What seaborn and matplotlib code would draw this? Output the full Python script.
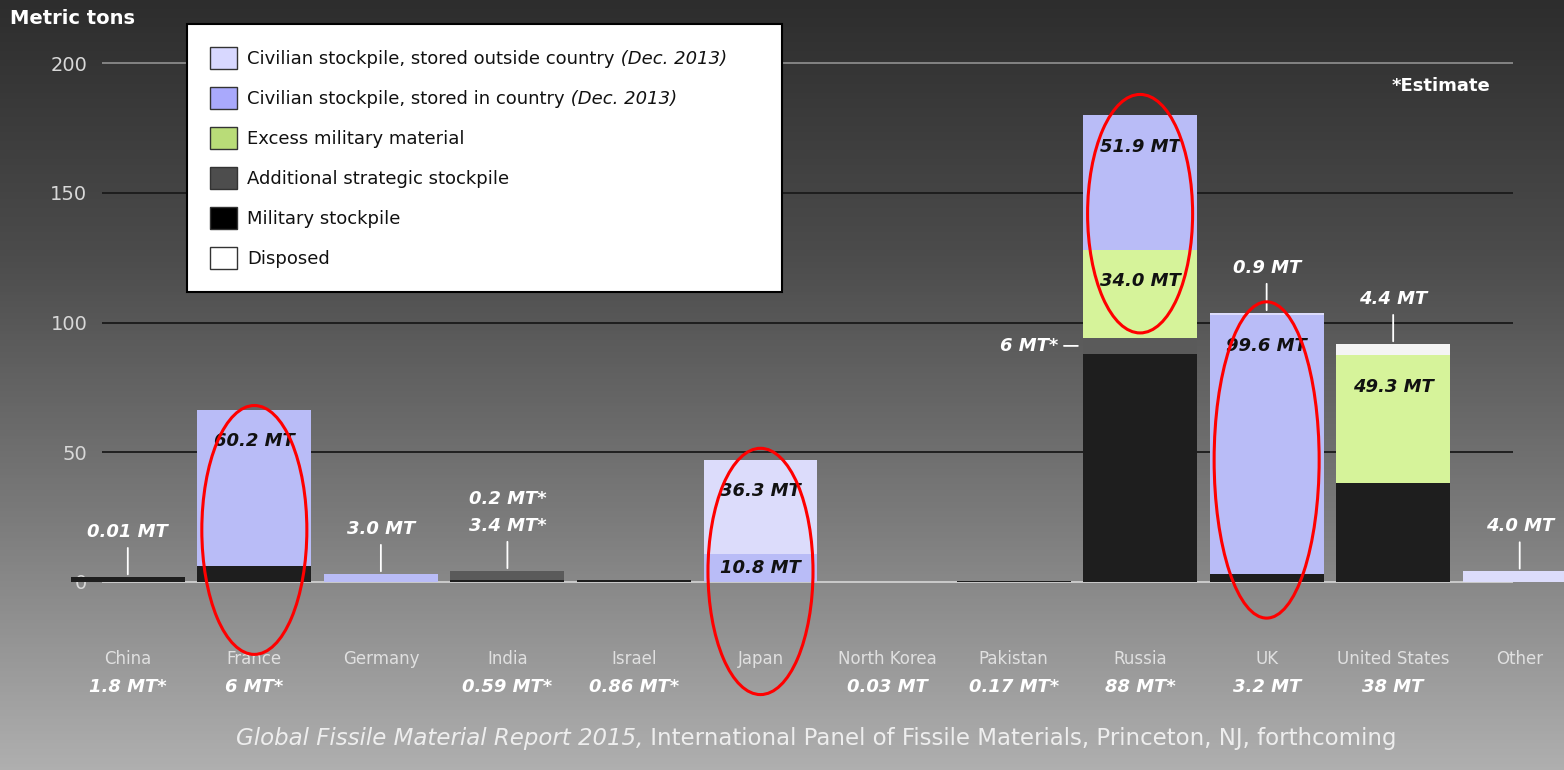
import numpy as np
import pandas as pd
import seaborn as sns
import matplotlib.pyplot as plt
from matplotlib.patches import Ellipse, Patch
from matplotlib.text import Annotation
from matplotlib.colors import LinearSegmentedColormap

# stockpiles per country, metric tons
countries = ["China", "France", "Germany", "India", "Israel", "Japan",
             "North Korea", "Pakistan", "Russia", "UK", "United States", "Other"]
military = [1.8, 6, 0, 0.59, 0.86, 0, 0.03, 0.17, 88, 3.2, 38, 0]
strategic = [0, 0, 0, 3.4, 0, 0, 0, 0, 6, 0, 0, 0]
excess = [0, 0, 0, 0, 0, 0, 0, 0, 34.0, 0, 49.3, 0]
civ_in = [0.01, 60.2, 3.0, 0.2, 0, 10.8, 0, 0, 51.9, 99.6, 0, 0]
civ_out = [0, 0, 0, 0, 0, 36.3, 0, 0, 0, 0.9, 0, 4.0]
disposed = [0, 0, 0, 0, 0, 0, 0, 0, 0, 0, 4.4, 0]

military_labels = ["1.8 MT*", "6 MT*", "", "0.59 MT*", "0.86 MT*", "",
                   "0.03 MT", "0.17 MT*", "88 MT*", "3.2 MT", "38 MT", ""]

layer_keys = ["military", "strategic", "excess", "civ_in", "civ_out", "disposed"]
legend_order = ["civ_out", "civ_in", "excess", "strategic", "military", "disposed"]
layer_names = {
    "civ_out": "Civilian stockpile, stored outside country",
    "civ_in": "Civilian stockpile, stored in country",
    "excess": "Excess military material",
    "strategic": "Additional strategic stockpile",
    "military": "Military stockpile",
    "disposed": "Disposed",
}
name_suffix = {"civ_out": "(Dec. 2013)", "civ_in": "(Dec. 2013)"}
bar_colors = {"military": "#1e1e1e", "strategic": "#5a5a5a", "excess": "#d6f39a",
              "civ_in": "#b9bcf7", "civ_out": "#dcdcfb", "disposed": "#f4f4f4"}
patch_colors = {"military": "#000000", "strategic": "#4d4d4d", "excess": "#b9dc78",
                "civ_in": "#a9a9fc", "civ_out": "#d8d8ff", "disposed": "#ffffff"}

# labels inside / above bars: (country, layer, text)
inside_labels = [("France", "civ_in", "60.2 MT"), ("Japan", "civ_out", "36.3 MT"),
                 ("Japan", "civ_in", "10.8 MT"), ("Russia", "civ_in", "51.9 MT"),
                 ("Russia", "excess", "34.0 MT"), ("UK", "civ_in", "99.6 MT"),
                 ("United States", "excess", "49.3 MT")]
above_labels = [("China", "0.01 MT"), ("Germany", "3.0 MT"), ("India", "0.2 MT*\n3.4 MT*"),
                ("UK", "0.9 MT"), ("United States", "4.4 MT"), ("Other", "4.0 MT")]

# red highlight rings: (country, y centre, height)
rings = [("France", 20, 96), ("Japan", 4, 95), ("Russia", 142, 92), ("UK", 47, 122)]

df = pd.DataFrame({"country": countries, "military": military, "strategic": strategic,
                   "excess": excess, "civ_in": civ_in, "civ_out": civ_out, "disposed": disposed})
tops = df[layer_keys].cumsum(axis=1)
bottoms = tops - df[layer_keys]

plt.rcParams["font.family"] = ["DejaVu Sans"]
fig = plt.figure(figsize=(15.64, 7.7), dpi=100)

# grey gradient backdrop
bg = fig.add_axes([0, 0, 1, 1], zorder=-10)
cmap = LinearSegmentedColormap.from_list("bg", ["#2d2d2d", "#4c4c4c", "#7a7a7a", "#afafaf"])
bg.imshow(np.linspace(0, 1, 256).reshape(-1, 1), aspect="auto", cmap=cmap,
          extent=[0, 1, 0, 1])
bg.axis("off")

ax = fig.add_axes([0, 0.1636, 1, 0.771])
ax.set_facecolor("none")

# stacked bars: draw cumulative tops from the top layer down
for key in reversed(layer_keys):
    sns.barplot(x=df["country"], y=tops[key], color=bar_colors[key], width=0.9,
                saturation=1, linewidth=0, ax=ax, zorder=2)

grid_colors = ["#d0d0d0", "#1a1a1a", "#1a1a1a", "#1a1a1a", "#8a8a8a"]
ax.hlines([0, 50, 100, 150, 200], -0.2, 10.95, colors=grid_colors, lw=1.3, zorder=1)

ax.set_xlim(-1.01, 11.35)
ax.set_ylim(-24, 205)
ax.set_yticks([0, 50, 100, 150, 200])
ax.set_yticklabels(["0", "50", "100", "150", "200"])
ax.tick_params(axis="y", length=0, pad=-63, labelcolor="#d8d8d8", labelsize=14)
ax.tick_params(axis="x", length=0, pad=4, labelcolor="#e0e0e0", labelsize=12)
ax.set_xlabel("")
ax.set_ylabel("")
for s in ax.spines.values():
    s.set_visible(False)

idx = {c: i for i, c in enumerate(countries)}

for i, lab in enumerate(military_labels):
    ax.annotate(lab, xy=(i, 0), xycoords=("data", "axes fraction"), xytext=(0, -31),
                textcoords="offset points", ha="center", va="center", color="white",
                fontsize=13, fontstyle="italic", fontweight="bold")

for c, key, txt in inside_labels:
    i = idx[c]
    top = tops.loc[i, key]
    h = top - bottoms.loc[i, key]
    y = top - min(h / 2, 12)
    ax.text(i, y, txt, ha="center", va="center", color="#111111", fontsize=13,
            fontstyle="italic", fontweight="bold", zorder=5)

for c, txt in above_labels:
    i = idx[c]
    ax.annotate(txt, xy=(i, tops.loc[i, "disposed"]), xytext=(0, 26),
                textcoords="offset points", ha="center", va="bottom", color="white",
                fontsize=13, fontstyle="italic", fontweight="bold", linespacing=1.6,
                arrowprops=dict(arrowstyle="-", color="white", lw=1.3, shrinkA=3, shrinkB=2),
                zorder=5)

# Russia's strategic stockpile, labelled at the side
ri = idx["Russia"]
ax.annotate("6 MT*", xy=(ri - 0.47, (tops.loc[ri, "strategic"] + bottoms.loc[ri, "strategic"]) / 2),
            xytext=(-16, 0), textcoords="offset points", ha="right", va="center",
            color="white", fontsize=13, fontstyle="italic", fontweight="bold",
            arrowprops=dict(arrowstyle="-", color="white", lw=1.3, shrinkA=2, shrinkB=2))

for c, yc, hgt in rings:
    ax.add_patch(Ellipse((idx[c], yc), 0.83, hgt, fill=False, edgecolor="red", lw=2.2,
                         zorder=6, clip_on=False))

handles = [Patch(facecolor=patch_colors[k], edgecolor="#333333", lw=1) for k in legend_order]
labels = [layer_names[k] for k in legend_order]
leg = fig.legend(handles, labels, loc="upper left",
                 bbox_to_anchor=(187 / 1564, 1 - 290 / 770, 595 / 1564, 266 / 770),
                 mode="expand", fontsize=13, frameon=True, fancybox=False,
                 edgecolor="black", framealpha=1, facecolor="white",
                 handlelength=1.5, handleheight=1.5, labelspacing=1.0,
                 borderpad=1.25, handletextpad=0.6, borderaxespad=0)
leg.get_frame().set_linewidth(1.5)
for k, t in zip(legend_order, leg.get_texts()):
    t.set_color("#111111")
    if k in name_suffix:
        # italic date appended after the legend label, drawn after the legend
        suffix = Annotation(" " + name_suffix[k], xy=(1, 0), xycoords=t, ha="left",
                            va="bottom", fontsize=13, fontstyle="italic", color="#111111")
        suffix.set_zorder(10)
        fig.add_artist(suffix)

fig.text(10 / 1564, 1 - 18 / 770, "Metric tons", color="white", fontsize=14,
         fontweight="bold", va="center", ha="left")
fig.text(1490 / 1564, 1 - 86 / 770, "*Estimate", color="white", fontsize=13,
         fontweight="bold", va="center", ha="right")
cap = fig.text(236 / 1564, 1 - 738 / 770, "Global Fissile Material Report 2015,",
               color="#eeeeee", fontsize=16.5, fontstyle="italic", ha="left", va="center")
cap_rest = Annotation(" International Panel of Fissile Materials, Princeton, NJ, forthcoming",
                      xy=(1, 0), xycoords=cap, ha="left", va="bottom", color="#eeeeee",
                      fontsize=16.5)
cap_rest.set_zorder(10)
fig.add_artist(cap_rest)

fig.savefig("out.png", dpi=100)
